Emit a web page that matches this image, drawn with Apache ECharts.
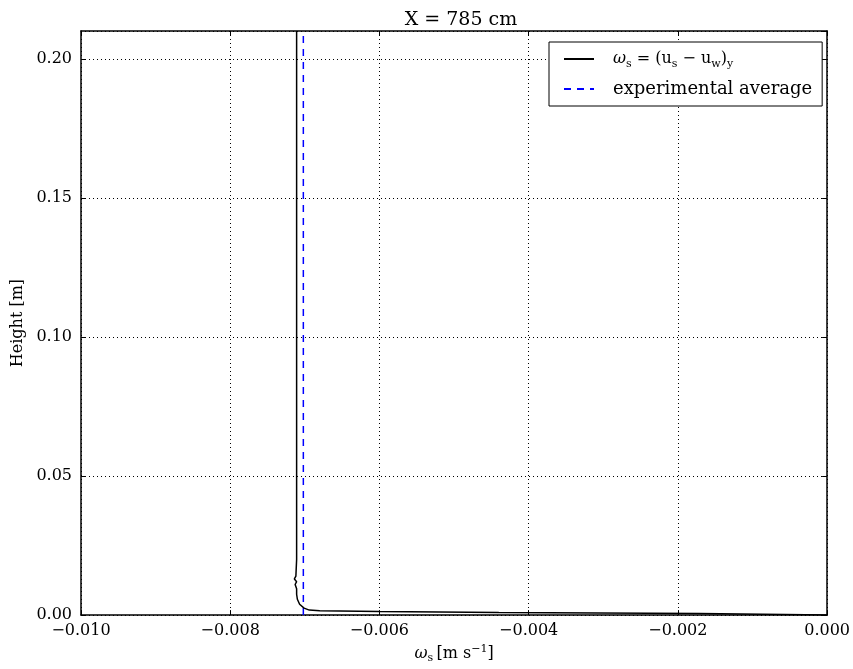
<!DOCTYPE html>
<html><head><meta charset="utf-8">
<script src="https://cdn.jsdelivr.net/npm/echarts@6/dist/echarts.min.js"></script>
<style>html,body{margin:0;padding:0;background:#fff;overflow:hidden}#c{width:853px;height:669px}</style>
</head><body><div id="c"></div>
<script>
// ---- data ----
const heights = [0.21, 0.10, 0.02, 0.014, 0.013, 0.012, 0.011, 0.0095, 0.0075, 0.0057, 0.0039, 0.0025, 0.0018, 0.0016, 0.00125, 0.0009, 0.00054, 0.0];
const omegaS  = [-0.00711, -0.00711, -0.00711, -0.00712, -0.00714, -0.00711, -0.00713, -0.00711, -0.00711, -0.00710, -0.00707, -0.00701, -0.00694, -0.00680, -0.00600, -0.00440, -0.00172, 0.0];
const expHeights = [0.0, 0.21];
const expOmega = [-0.00702, -0.00702];
const xTicks = [-0.010, -0.008, -0.006, -0.004, -0.002, 0.000];
const yTicks = [0.00, 0.05, 0.10, 0.15, 0.20];

const FONT = '"DejaVu Serif", "Liberation Serif", serif';
const fmtX = v => (v < 0 ? '\u2212' : '') + Math.abs(v).toFixed(3);
const fmtY = v => v.toFixed(2);

const chart = echarts.init(document.getElementById('c'), null, {renderer: 'canvas', width: 853, height: 669});
const axisCommon = {
  axisLine: {show: true, onZero: false, lineStyle: {color: '#000', width: 1.5}},
  axisTick: {show: true, inside: true, length: 5, lineStyle: {color: '#000', width: 1}},
};
const gridLine = {show: true, lineStyle: {color: '#000', width: 1, type: [1, 3]}};
const rich = {
  n: {fontFamily: FONT, fontSize: 16, lineHeight: 20, color: '#000'},
  i: {fontFamily: FONT, fontSize: 16, lineHeight: 20, fontStyle: 'italic', color: '#000'},
  sb: {fontFamily: FONT, fontSize: 11, lineHeight: 11, verticalAlign: 'bottom', color: '#000'},
  sp: {fontFamily: FONT, fontSize: 11, lineHeight: 11, verticalAlign: 'top', color: '#000'}
};
const legRich = {
  n: {fontFamily: FONT, fontSize: 18, lineHeight: 22, color: '#000'},
  i: {fontFamily: FONT, fontSize: 16, lineHeight: 22, fontStyle: 'italic', color: '#000'},
  m: {fontFamily: FONT, fontSize: 16, lineHeight: 22, color: '#000'},
  sb: {fontFamily: FONT, fontSize: 11, lineHeight: 11, verticalAlign: 'bottom', color: '#000'}
};
const seriesNames = ['omega', 'exp'];
chart.setOption({
  animation: false,
  backgroundColor: '#fff',
  title: {text: 'X = 785 cm', left: 456, textAlign: 'center', top: 6,
    textStyle: {fontFamily: FONT, fontSize: 19, fontWeight: 'normal', color: '#000'}},
  grid: {left: 81, right: 24, top: 31, bottom: 53, containLabel: false},
  legend: {
    orient: 'vertical', left: 549, top: 42,
    data: seriesNames,
    itemWidth: 30, itemHeight: 14, itemGap: 10,
    padding: [9, 10, 8, 14],
    borderColor: '#000', borderWidth: 1, backgroundColor: '#fff',
    itemStyle: {opacity: 0},
    formatter: name => name === 'omega'
      ? '{i|ω}{sb|s}{m| = (u}{sb|s}{m| − u}{sb|w}{m|)}{sb|y}'
      : '{n|experimental average}',
    textStyle: {fontFamily: FONT, fontSize: 18, color: '#000', padding: [0, 0, 0, 14], rich: legRich}
  },
  xAxis: [
    Object.assign({}, axisCommon, {
      type: 'value', position: 'bottom', min: xTicks[0], max: xTicks[xTicks.length - 1], interval: 0.002,
      splitLine: gridLine,
      axisLabel: {formatter: fmtX, fontFamily: FONT, fontSize: 16, color: '#000', margin: 8},
      name: '{i|ω}{sb|s} {n|[m s}{sp|−1}{n|]}', nameLocation: 'middle', nameGap: 28,
      nameTextStyle: {rich: rich}
    }),
    Object.assign({}, axisCommon, {
      type: 'value', position: 'top', min: xTicks[0], max: xTicks[xTicks.length - 1], interval: 0.002,
      splitLine: {show: false}, axisLabel: {show: false}
    })
  ],
  yAxis: [
    Object.assign({}, axisCommon, {
      type: 'value', position: 'left', min: 0, max: 0.21, interval: 0.05,
      splitLine: gridLine,
      axisLabel: {formatter: fmtY, fontFamily: FONT, fontSize: 16, color: '#000', margin: 9, showMaxLabel: false},
      name: 'Height [m]', nameLocation: 'middle', nameRotate: 90, nameGap: 54,
      nameTextStyle: {fontFamily: FONT, fontSize: 16, color: '#000'}
    }),
    Object.assign({}, axisCommon, {
      type: 'value', position: 'right', min: 0, max: 0.21, interval: 0.05,
      splitLine: {show: false}, axisLabel: {show: false}
    })
  ],
  series: [
    {name: 'omega', type: 'line', xAxisIndex: 0, yAxisIndex: 0, symbol: 'none', smooth: false,
      lineStyle: {color: '#000', width: 1.5}, itemStyle: {color: '#000'},
      data: heights.map((h, k) => [omegaS[k], h]), z: 3},
    {name: 'exp', type: 'line', xAxisIndex: 0, yAxisIndex: 0, symbol: 'none',
      lineStyle: {color: '#0000ff', width: 1.5, type: [7, 6]}, itemStyle: {color: '#0000ff'},
      data: expHeights.map((h, k) => [expOmega[k], h]), z: 2}
  ]
});
</script></body></html>
